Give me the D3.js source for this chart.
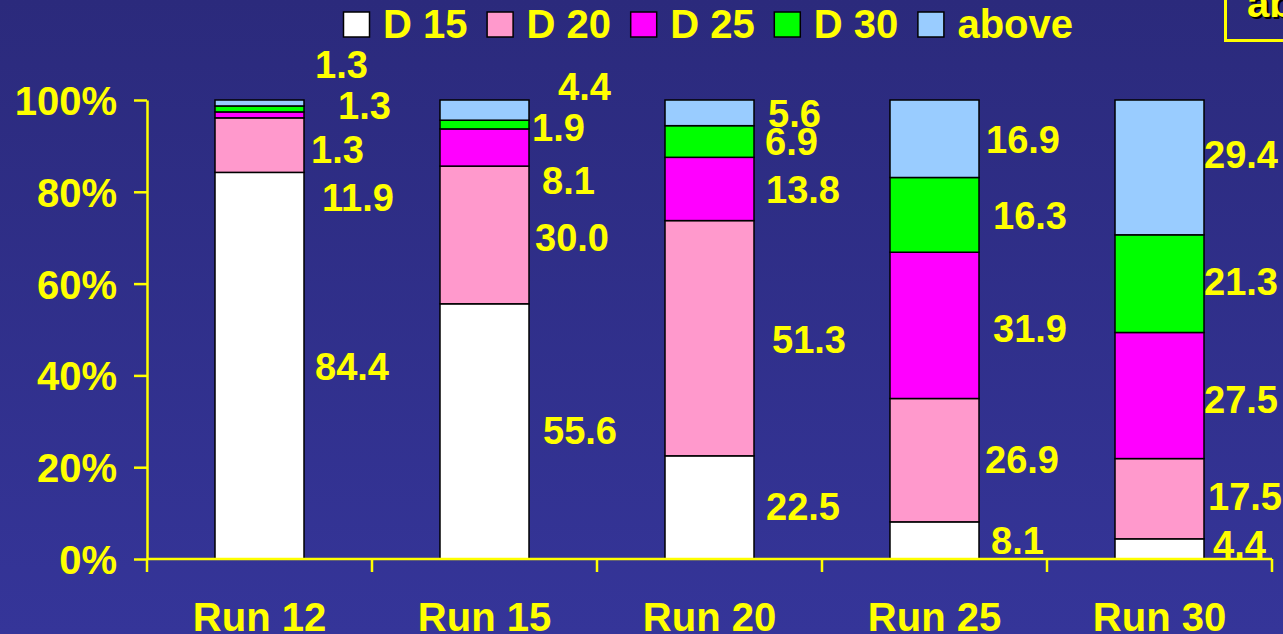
<!DOCTYPE html>
<html>
<head>
<meta charset="utf-8">
<script src="https://cdn.jsdelivr.net/npm/d3@7"></script>
<style>
  html, body { margin: 0; padding: 0; background: #2f2f88; overflow: hidden; }
  svg { display: block; font-family: "Liberation Sans", Arial, Helvetica, sans-serif; font-weight: bold; }
</style>
</head>
<body>
<svg id="chart" width="1283" height="634"></svg>
<script>
// Share of each diameter class per run (percent)
const runs = ["Run 12", "Run 15", "Run 20", "Run 25", "Run 30"];
const classes = ["D 15", "D 20", "D 25", "D 30", "above"];
const d15 = [84.4, 55.6, 22.5, 8.1, 4.4];
const d20 = [11.9, 30.0, 51.3, 26.9, 17.5];
const d25 = [1.3, 8.1, 13.8, 31.9, 27.5];
const d30 = [1.3, 1.9, 6.9, 16.3, 21.3];
const above = [1.3, 4.4, 5.6, 16.9, 29.4];
const yTicks = [0, 20, 40, 60, 80, 100];

// Hand placement of value labels: [dx from bar edge, dy from segment middle]
const labelNudge = [
  [[11, 1], [18, 52], [7, 34], [34, -4], [11, -38.5]],
  [[14, -1], [6, 2.5], [13, 33], [3, 3], [29, -23.6]],
  [[12, -1], [18, 1], [12, 0], [11, 0], [14, 0]],
  [[12, 0], [6, -1], [14, 3], [14, 0], [7, 1]],
  [[9, -4.4], [4, -2], [0, 3.5], [0, -2.6], [0, -13]]
];

const colors = ["#ffffff", "#ff99cc", "#ff00ff", "#00ff00", "#99ccff"];
const yellow = "#ffff00";

const seriesValues = [d15, d20, d25, d30, above];
const table = runs.map((r, i) => {
  const row = { run: r };
  classes.forEach((c, k) => { row[c] = seriesValues[k][i]; });
  return row;
});

const svg = d3.select("#chart");
const W = 1283, H = 634;

// background
const defs = svg.append("defs");
const grad = defs.append("linearGradient").attr("id", "bg")
  .attr("x1", 0).attr("y1", 0).attr("x2", 0).attr("y2", 1);
grad.append("stop").attr("offset", "0%").attr("stop-color", "#2b2a7c");
grad.append("stop").attr("offset", "100%").attr("stop-color", "#353599");
svg.append("rect").attr("width", W).attr("height", H).attr("fill", "url(#bg)");

const plot = { left: 147, right: 1272, top: 100, bottom: 559 };

const x = d3.scaleBand()
  .domain(runs)
  .range([plot.left, plot.right])
  .paddingInner(0.6044)
  .paddingOuter(0.3022);

const y = d3.scaleLinear().domain([0, 1]).range([plot.bottom, plot.top]);

const stacked = d3.stack().keys(classes).offset(d3.stackOffsetExpand)(table);

// bars
const layers = svg.append("g").selectAll("g")
  .data(stacked).join("g")
  .attr("fill", (d, k) => colors[k]);

layers.selectAll("rect")
  .data(d => d).join("rect")
  .attr("x", d => x(d.data.run))
  .attr("width", x.bandwidth())
  .attr("y", d => y(d[1]))
  .attr("height", d => y(d[0]) - y(d[1]))
  .attr("stroke", "#000")
  .attr("stroke-width", 1.5);

// value labels
const fmt = d3.format(".1f");
stacked.forEach((layer, k) => {
  svg.append("g").selectAll("text")
    .data(layer).join("text")
    .attr("x", (d, i) => x(d.data.run) + x.bandwidth() + labelNudge[i][k][0])
    .attr("y", (d, i) => (y(d[0]) + y(d[1])) / 2 + labelNudge[i][k][1])
    .attr("dy", "0.36em")
    .attr("fill", yellow)
    .attr("font-size", 38)
    .text(d => fmt(d.data[layer.key]));
});

// y axis
const yAxis = d3.axisLeft(y)
  .tickValues(yTicks.map(v => v / 100))
  .tickFormat(d => Math.round(d * 100) + "%")
  .tickSize(13)
  .tickSizeOuter(0)
  .tickPadding(17);

const yg = svg.append("g").attr("transform", `translate(${plot.left},0)`).call(yAxis);
yg.select(".domain").attr("stroke", yellow).attr("stroke-width", 2.5);
yg.selectAll(".tick line").attr("stroke", yellow).attr("stroke-width", 2.5);
yg.selectAll(".tick text")
  .attr("fill", yellow)
  .attr("font-size", 40)
  .attr("font-family", "'Liberation Sans', Arial, sans-serif")
  .attr("font-weight", "bold")
  .attr("dy", "0.36em");

// x axis: line, ticks on band boundaries, labels at band centres
const xg = svg.append("g");
xg.append("line")
  .attr("x1", plot.left).attr("x2", plot.right)
  .attr("y1", plot.bottom).attr("y2", plot.bottom)
  .attr("stroke", yellow).attr("stroke-width", 2.5);
const bounds = d3.range(runs.length + 1).map(i => plot.left + i * x.step());
xg.selectAll("line.tick").data(bounds).join("line")
  .attr("class", "tick")
  .attr("x1", d => d).attr("x2", d => d)
  .attr("y1", plot.bottom).attr("y2", plot.bottom + 13)
  .attr("stroke", yellow).attr("stroke-width", 2.5);
xg.selectAll("text").data(runs).join("text")
  .attr("x", d => x(d) + x.bandwidth() / 2)
  .attr("y", 631)
  .attr("text-anchor", "middle")
  .attr("fill", yellow)
  .attr("font-size", 40)
  .text(d => d);

// legend
const legend = svg.append("g");
const item = legend.selectAll("g").data(classes).join("g")
  .attr("transform", (d, i) => `translate(${343.5 + i * 143.6},0)`);
item.append("rect")
  .attr("x", 0).attr("y", 12)
  .attr("width", 26).attr("height", 25)
  .attr("fill", (d, i) => colors[i])
  .attr("stroke", "#000").attr("stroke-width", 1.5);
item.append("text")
  .attr("x", 39.5).attr("y", 38)
  .attr("fill", yellow)
  .attr("font-size", 40)
  .text(d => d);

// boxed heading in the top-right corner
const note = svg.append("g");
note.append("rect")
  .attr("x", 1225.5).attr("y", -10)
  .attr("width", 80).attr("height", 50.5)
  .attr("fill", "none")
  .attr("stroke", yellow).attr("stroke-width", 3);
note.append("text")
  .attr("x", 1249).attr("y", 19)
  .attr("fill", "#000")
  .attr("font-size", 40)
  .text("ab");
note.append("text")
  .attr("x", 1247).attr("y", 17)
  .attr("fill", yellow)
  .attr("font-size", 40)
  .text("ab");
</script>
</body>
</html>
